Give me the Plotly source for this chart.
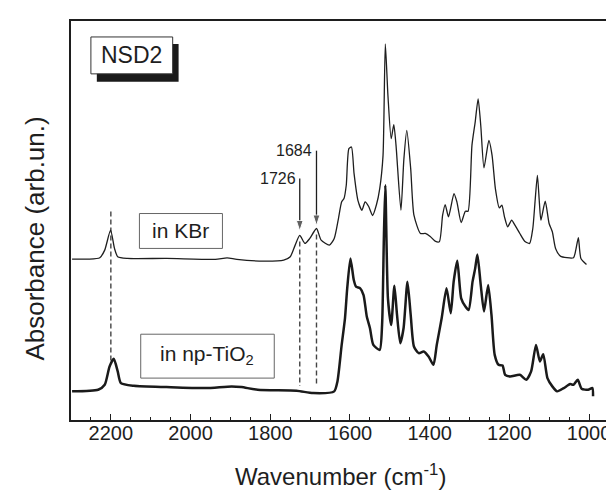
import plotly.graph_objects as go

# --- data (wavenumber in cm^-1, absorbance in arb. units) ---
kbr_wn = [2297.3, 2256.4, 2227.7, 2215.4, 2200.7, 2190.9, 2182.8, 2158.3, 2060.3, 1937.7, 1908.3, 1883.8,
          1815.2, 1766.2, 1749.8, 1737.5, 1726.0, 1713.0, 1700.8, 1684.0, 1672.3, 1651.7, 1639.5, 1628.9,
          1620.8, 1615.0, 1609.3, 1602.7, 1596.3, 1589.7, 1579.9, 1570.1, 1562.0, 1553.0, 1543.2, 1533.4,
          1525.3, 1517.0, 1511.3, 1504.7, 1496.6, 1490.0, 1484.4, 1472.1, 1464.8, 1457.4, 1447.6, 1439.5,
          1423.1, 1410.9, 1398.6, 1386.3, 1375.8, 1367.5, 1361.1, 1352.8, 1339.0, 1331.7, 1320.9, 1310.3,
          1303.7, 1293.9, 1285.8, 1278.4, 1271.8, 1263.7, 1251.5, 1243.4, 1235.1, 1225.3, 1218.9, 1212.3,
          1204.2, 1194.4, 1186.1, 1173.8, 1161.6, 1149.3, 1141.2, 1135.6, 1129.7, 1124.8, 1120.9, 1110.1,
          1100.3, 1092.2, 1084.1, 1071.9, 1055.5, 1039.0, 1033.4, 1026.8, 1020.5, 1006.5]
kbr_abs = [1.603, 1.603, 1.617, 1.693, 1.893, 1.710, 1.627, 1.610, 1.610, 1.600, 1.615, 1.600,
           1.583, 1.593, 1.627, 1.743, 1.840, 1.760, 1.810, 1.910, 1.793, 1.743, 1.810, 2.010,
           2.177, 2.210, 2.343, 2.710, 2.727, 2.460, 2.190, 2.093, 2.177, 2.130, 2.040, 2.150,
           2.310, 2.643, 3.760, 3.243, 2.810, 2.950, 2.743, 2.093, 2.600, 2.893, 2.510, 2.043,
           1.860, 1.860, 1.830, 1.783, 1.777, 2.043, 2.150, 2.027, 2.260, 2.177, 1.970, 2.083,
           2.083, 2.743, 2.977, 3.210, 2.943, 2.517, 2.793, 2.643, 2.310, 2.117, 2.143, 2.027,
           1.927, 1.993, 1.943, 1.860, 1.783, 1.760, 1.910, 2.177, 2.443, 2.177, 1.993, 2.183,
           1.960, 1.877, 1.710, 1.633, 1.617, 1.617, 1.693, 1.817, 1.610, 1.550]

tio2_wn = [2297.3, 2231.9, 2215.4, 2203.2, 2192.6, 2182.8, 2174.8, 2141.9, 2060.3, 1962.3, 1896.8, 1872.3,
           1831.6, 1733.6, 1692.6, 1639.5, 1631.4, 1620.8, 1612.5, 1606.9, 1598.8, 1590.4, 1584.8, 1574.3,
           1565.9, 1557.8, 1549.8, 1541.4, 1525.3, 1519.4, 1515.0, 1511.3, 1504.7, 1496.6, 1488.5, 1481.9,
           1473.8, 1465.5, 1455.7, 1447.6, 1439.5, 1427.3, 1415.0, 1402.8, 1390.5, 1382.2, 1369.9, 1357.7,
           1347.1, 1339.8, 1330.7, 1320.9, 1310.3, 1302.2, 1292.4, 1285.8, 1280.2, 1271.8, 1263.7, 1253.2,
           1244.9, 1236.8, 1227.0, 1217.2, 1210.6, 1198.4, 1173.8, 1157.7, 1145.4, 1133.2, 1123.4, 1115.0,
           1104.5, 1092.2, 1080.0, 1063.6, 1047.4, 1039.0, 1028.5, 1018.7, 1002.3, 991.7, 990.0]
tio2_abs = [0.277, 0.293, 0.343, 0.527, 0.603, 0.477, 0.360, 0.333, 0.320, 0.310, 0.327, 0.320,
            0.293, 0.283, 0.260, 0.277, 0.377, 0.743, 1.010, 1.310, 1.610, 1.393, 1.327, 1.310,
            1.243, 1.027, 0.910, 0.743, 0.693, 0.943, 1.800, 2.343, 1.210, 0.943, 1.337, 1.043,
            0.760, 0.910, 1.377, 1.043, 0.727, 0.660, 0.677, 0.627, 0.543, 0.743, 1.010, 1.310,
            1.060, 1.377, 1.587, 1.210, 1.127, 1.093, 1.377, 1.510, 1.650, 1.343, 1.077, 1.343,
            1.043, 0.643, 0.543, 0.537, 0.443, 0.427, 0.443, 0.393, 0.477, 0.743, 0.577, 0.650,
            0.410, 0.327, 0.277, 0.310, 0.350, 0.343, 0.393, 0.303, 0.293, 0.310, 0.227]

# marker lines (wavenumber, top, bottom)
dash_wn = [2200, 1726, 1684]
dash_top = [2.08, 1.78, 1.85]
dash_bot = [0.56, 0.33, 0.33]

# labelled arrows
arrow_wn = [1726, 1684]
arrow_tip = [1.885, 1.94]
arrow_tail = [2.41, 2.69]
arrow_text = ["1726", "1684"]

tick_vals = [2200, 2000, 1800, 1600, 1400, 1200, 1000]
x_range = [2300, 950]
y_range = [-0.01, 3.99]

FONT = "Arial, Liberation Sans, sans-serif"
INK = "#1e1e1e"

fig = go.Figure()

for w, t, b in zip(dash_wn, dash_top, dash_bot):
    fig.add_trace(go.Scatter(x=[w, w], y=[t, b], mode="lines",
                             line=dict(color="#444444", width=1.4, dash="5px,3px"),
                             showlegend=False, hoverinfo="skip"))

fig.add_trace(go.Scatter(x=kbr_wn, y=kbr_abs, mode="lines", name="in KBr",
                         line=dict(color=INK, width=1.3, shape="spline", smoothing=0.6),
                         showlegend=False))
fig.add_trace(go.Scatter(x=tio2_wn, y=tio2_abs, mode="lines", name="in np-TiO2",
                         line=dict(color="#1a1a1a", width=2.5, shape="spline", smoothing=0.6),
                         showlegend=False))

annotations = []
for w, tip, tail, txt in zip(arrow_wn, arrow_tip, arrow_tail, arrow_text):
    fig.add_trace(go.Scatter(x=[w, w], y=[tail, tip], mode="lines+markers",
                             line=dict(color=INK, width=1.3),
                             marker=dict(symbol="arrow", size=[0, 11], angleref="previous", color=INK),
                             showlegend=False, hoverinfo="skip"))
    annotations.append(dict(x=w, y=tail, xref="x", yref="y", text=txt, showarrow=False,
                            xanchor="right", yanchor="middle", xshift=-2,
                            font=dict(family=FONT, size=16, color=INK)))

def label(x, y, text, size, **kw):
    d = dict(x=x, y=y, xref="paper", yref="paper", text=text, showarrow=False,
             xanchor="center", yanchor="middle", font=dict(family=FONT, size=size, color=INK))
    d.update(kw)
    annotations.append(d)

label(0.113, 0.9138, "NSD2", 23)
label(0.2043, 0.4738, "in KBr", 21)
label(0.2537, 0.1625, "in np-TiO<sub>2</sub>", 21)
label(-0.0667, 0.455, "Absorbance (arb.un.)", 26, textangle=-90)
label(0.5, -0.18, "Wavenumber (cm<sup>-1</sup>)", 24, yanchor="bottom")

shapes = [
    dict(type="rect", xref="paper", yref="paper", x0=0.048, x1=0.200, y0=0.8475, y1=0.9425,
         fillcolor="#1a1a1a", line=dict(width=0), layer="above"),
    dict(type="rect", xref="paper", yref="paper", x0=0.037, x1=0.189, y0=0.8675, y1=0.960,
         fillcolor="white", line=dict(color="#333333", width=1), layer="above"),
    dict(type="rect", xref="paper", yref="paper", x0=0.1272, x1=0.2815, y0=0.43, y1=0.5175,
         fillcolor="rgba(0,0,0,0)", line=dict(color="#666666", width=1)),
    dict(type="rect", xref="paper", yref="paper", x0=0.1296, x1=0.3778, y0=0.105, y1=0.215,
         fillcolor="rgba(0,0,0,0)", line=dict(color="#666666", width=1)),
]

fig.update_layout(
    width=614, height=492,
    margin=dict(l=63, r=11, t=12, b=80),
    paper_bgcolor="white", plot_bgcolor="white",
    annotations=annotations, shapes=shapes,
    showlegend=False,
    xaxis=dict(range=x_range, tickvals=tick_vals, ticks="inside", ticklen=6, tickwidth=1.3,
               tickcolor=INK, showline=True, linecolor=INK, linewidth=1.8, mirror=True,
               showgrid=False, zeroline=False, ticklabelstandoff=-6,
               minor=dict(ticks="inside", dtick=50, tick0=0, ticklen=3, tickwidth=1.2, tickcolor=INK),
               tickfont=dict(family=FONT, size=20, color=INK)),
    yaxis=dict(range=y_range, showticklabels=False, ticks="", showline=True, linecolor=INK,
               linewidth=1.8, mirror=True, showgrid=False, zeroline=False),
)

fig.write_html("out.html")
